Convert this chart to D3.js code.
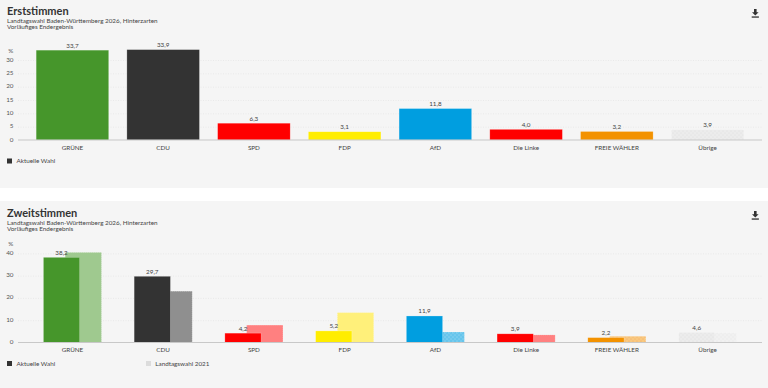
<!DOCTYPE html>
<html><head><meta charset="utf-8">
<script src="https://cdn.jsdelivr.net/npm/d3@7"></script>
<style>
html,body{margin:0;padding:0;background:#fff;}
svg{display:block;font-family:Lato, "DejaVu Sans", sans-serif;}
</style></head>
<body><svg id="c" width="768" height="388"></svg>
<script>
const parties = ["GRÜNE","CDU","SPD","FDP","AfD","Die Linke","FREIE WÄHLER","Übrige"];
const partyColors = ["#46962b","#333333","#ff0000","#ffed00","#009ee0","#ff0000","#f39200","#ececec"];
const prevColors = ["#9fc98f","#8f8f8f","#ff8080","#fff07a","#66c5ec","#ff8080","#f9c97f","#f0f0f0"];
const erst2026 = [33.7,33.9,6.3,3.1,11.8,4.0,3.2,3.9];
const zweit2026 = [38.2,29.7,4.2,5.2,11.9,3.9,2.2,4.6];
const zweit2021 = [40.4,23.0,7.8,13.4,4.7,3.4,2.8,4.3];
const erstTicks = [0,5,10,15,20,25,30];
const zweitTicks = [0,10,20,30,40];
const subtitle1 = "Landtagswahl Baden-Württemberg 2026, Hinterzarten";
const subtitle2 = "Vorläufiges Endergebnis";

const svg = d3.select("#c");
const de = d3.formatLocale({decimal:",",thousands:".",grouping:[3],currency:["","€"]});
const fmt = de.format(".1f");

// patterns
const defs = svg.append("defs");
function dotPattern(id, bg, dot){
  const p = defs.append("pattern").attr("id",id).attr("patternUnits","userSpaceOnUse").attr("width",4).attr("height",4);
  p.append("rect").attr("width",4).attr("height",4).attr("fill",bg);
  p.append("circle").attr("cx",1).attr("cy",1).attr("r",0.45).attr("fill",dot);
  p.append("circle").attr("cx",3).attr("cy",3).attr("r",0.45).attr("fill",dot);
}
dotPattern("pUeb","#ececec","#d2d2d2");
dotPattern("pUebPrev","#f1f1f1","#dedede");
dotPattern("pAfdPrev","#66c5ec","#e8f6fc");
dotPattern("pFwPrev","#f9c97f","#f08a5a");
const curFill = i => i===7 ? "url(#pUeb)" : partyColors[i];
const prevFill = i => i===4 ? "url(#pAfdPrev)" : i===6 ? "url(#pFwPrev)" : i===7 ? "url(#pUebPrev)" : prevColors[i];

const x = d3.scaleBand().domain(parties).range([18,762]).paddingInner(0.2).paddingOuter(0.2);
const FS = 6.3;

function panel(top, h, title, yScale, ticks, hasPrev){
  const g = svg.append("g");
  g.append("rect").attr("x",0).attr("y",top).attr("width",768).attr("height",h).attr("fill","#f5f5f5");
  g.append("text").attr("x",7).attr("y",top+16).attr("font-size",11).attr("font-weight",700).attr("fill","#333").text(title);
  g.append("text").attr("x",7).attr("y",top+23.8).attr("font-size",FS).attr("fill","#444").text(subtitle1);
  g.append("text").attr("x",7).attr("y",top+30.2).attr("font-size",FS).attr("fill","#444").text(subtitle2);
  // download icon
  const ix = 755.3, iy = top+10;
  g.append("path").attr("d",`M${ix-1.3},${iy} h2.6 v3.2 h2 l-3.3,3.4 l-3.3,-3.4 h2 z`).attr("fill","#333");
  g.append("rect").attr("x",ix-3.6).attr("y",iy+7.4).attr("width",7.2).attr("height",1.3).attr("fill","#333");

  const y0 = yScale(0);
  // grid + tick labels
  const ya = d3.axisLeft(yScale).tickValues(ticks).tickSize(-(762-18)).tickPadding(4.5).tickFormat(d3.format("d"));
  const ag = g.append("g").attr("transform","translate(18,0)").call(ya);
  ag.attr("font-family",null);
  ag.select(".domain").remove();
  ag.selectAll(".tick line").attr("stroke","#e0e0e0").attr("stroke-width",0.6).attr("stroke-dasharray","1,1.5")
    .filter(d=>d===0).remove();
  ag.selectAll(".tick text").attr("font-size",FS).attr("fill","#555").attr("dy","0.32em").attr("y",-1);
  g.append("text").attr("x",13.3).attr("y",yScale(ticks[ticks.length-1])-7).attr("text-anchor","end").attr("font-size",FS).attr("fill","#555").text("%");

  const bw = x.bandwidth();
  if(hasPrev){
    const wb = bw*0.5, off = bw*0.3, start = bw*0.1;
    g.append("g").selectAll("rect").data(zweit2021).join("rect")
      .attr("x",(d,i)=>x(parties[i])+start+off).attr("width",wb)
      .attr("y",d=>yScale(d)).attr("height",d=>y0-yScale(d))
      .attr("fill",(d,i)=>prevFill(i)).attr("stroke","rgba(255,255,255,0.45)").attr("stroke-width",0.6).attr("stroke-dasharray","1,1");
    const cur = g.append("g");
    cur.selectAll("rect").data(zweit2026).join("rect")
      .attr("x",(d,i)=>x(parties[i])+start).attr("width",wb)
      .attr("y",d=>yScale(d)).attr("height",d=>y0-yScale(d))
      .attr("fill",(d,i)=>curFill(i)).attr("stroke","rgba(255,255,255,0.4)").attr("stroke-width",0.6);
    cur.selectAll("text").data(zweit2026).join("text")
      .attr("x",(d,i)=>x(parties[i])+start+wb/2).attr("y",d=>yScale(d)-2.5)
      .attr("text-anchor","middle").attr("font-size",FS).attr("fill","#444").text(d=>fmt(d));
  } else {
    g.append("g").selectAll("rect").data(erst2026).join("rect")
      .attr("x",(d,i)=>x(parties[i])).attr("width",bw)
      .attr("y",d=>yScale(d)).attr("height",d=>y0-yScale(d))
      .attr("fill",(d,i)=>curFill(i)).attr("stroke","rgba(255,255,255,0.4)").attr("stroke-width",0.6);
    g.append("g").selectAll("text").data(erst2026).join("text")
      .attr("x",(d,i)=>x(parties[i])+bw/2).attr("y",d=>yScale(d)-2.3)
      .attr("text-anchor","middle").attr("font-size",FS).attr("fill","#444").text(d=>fmt(d));
  }
  // baseline axis with category labels
  const xa = d3.axisBottom(x).tickSize(0).tickPadding(5.2);
  const bg = g.append("g").attr("transform",`translate(0,${y0})`).call(xa);
  bg.attr("font-family",null);
  bg.select(".domain").attr("stroke","#c8c8c8").attr("stroke-width",1.2).attr("d","M18,0H762");
  bg.selectAll(".tick text").attr("font-size",FS).attr("fill","#444");

  // legend
  const ly = y0 + 21;
  g.append("rect").attr("x",7).attr("y",ly-2.5).attr("width",5).attr("height",5).attr("fill","#333");
  g.append("text").attr("x",16.5).attr("y",ly+2.2).attr("font-size",FS).attr("fill","#444").text("Aktuelle Wahl");
  if(hasPrev){
    g.append("rect").attr("x",146).attr("y",ly-2.5).attr("width",5).attr("height",5).attr("fill","#dcdcdc");
    g.append("text").attr("x",155.3).attr("y",ly+2.2).attr("font-size",FS).attr("fill","#444").text("Landtagswahl 2021");
  }
}

panel(-1, 189, "Erststimmen", d3.scaleLinear().domain([0,30]).range([140,60]), erstTicks, false);
panel(201, 187, "Zweitstimmen", d3.scaleLinear().domain([0,40]).range([342.5,253.3]), zweitTicks, true);
</script></body></html>
